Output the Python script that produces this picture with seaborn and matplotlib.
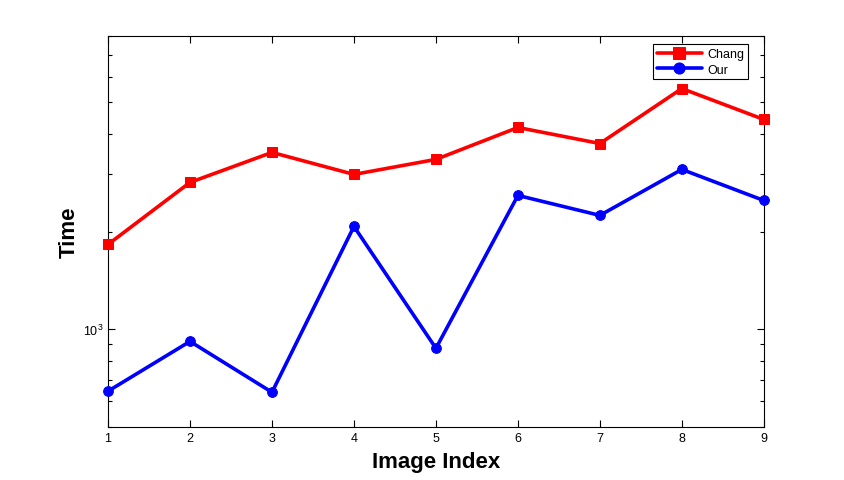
import numpy as np
import pandas as pd
import matplotlib
matplotlib.use("Agg")
import matplotlib.pyplot as plt
import matplotlib.ticker as mticker
import seaborn as sns

# values (log y axis)
image_index = [1, 2, 3, 4, 5, 6, 7, 8, 9]
chang_time = [1826, 2834, 3505, 2999, 3336, 4183, 3734, 5513, 4428]
our_time = [645, 918, 640, 2074, 874, 2584, 2243, 3107, 2493]

df = pd.DataFrame({
    "Image Index": image_index * 2,
    "Time": chang_time + our_time,
    "Method": ["Chang"] * len(image_index) + ["Our"] * len(image_index),
})

sns.set_theme(style="ticks")
plt.rcParams["font.family"] = ["Liberation Sans", "DejaVu Sans"]
plt.rcParams["xtick.direction"] = "in"
plt.rcParams["ytick.direction"] = "in"
plt.rcParams["text.color"] = "black"
plt.rcParams["axes.labelcolor"] = "black"
plt.rcParams["xtick.color"] = "black"
plt.rcParams["ytick.color"] = "black"

fig = plt.figure(figsize=(8.44, 4.81), dpi=100)
ax = fig.add_axes([0.128, 0.110, 0.777, 0.813])

colors = {"Chang": "#ff0000", "Our": "#0000ff"}
sns.lineplot(data=df, x="Image Index", y="Time", hue="Method", style="Method",
             markers={"Chang": "s", "Our": "o"}, dashes=False,
             palette=colors, linewidth=2.6, markersize=7, ax=ax,
             clip_on=False, zorder=5)
for line in ax.lines:
    line.set_markeredgecolor(line.get_color())

ax.set_yscale("log")
ax.set_ylim(500, 8000)
ax.set_xlim(1, 9)
ax.set_xticks(image_index)
ax.yaxis.set_minor_formatter(mticker.NullFormatter())

ax.tick_params(which="both", top=True, right=True, labelsize=9, color="black",
               width=0.8)
ax.tick_params(which="major", length=5)
ax.tick_params(which="minor", length=3)
for s in ax.spines.values():
    s.set_visible(True)
    s.set_color("black")
    s.set_linewidth(0.8)

ax.set_xlabel("Image Index", fontsize=16, fontweight="bold", labelpad=5)
ax.set_ylabel("Time", fontsize=16, fontweight="bold", labelpad=2)

leg = ax.legend(loc="upper right", fontsize=9, frameon=True, fancybox=False,
                edgecolor="black", framealpha=1,
                bbox_to_anchor=(0.985, 0.995),
                handlelength=3.6, borderpad=0.3, labelspacing=0.3,
                handletextpad=0.4)
leg.get_frame().set_linewidth(0.8)
for h in leg.legend_handles:
    h.set_markeredgecolor(h.get_color())
    h.set_markersize(8)

fig.savefig("out.png", dpi=100)
